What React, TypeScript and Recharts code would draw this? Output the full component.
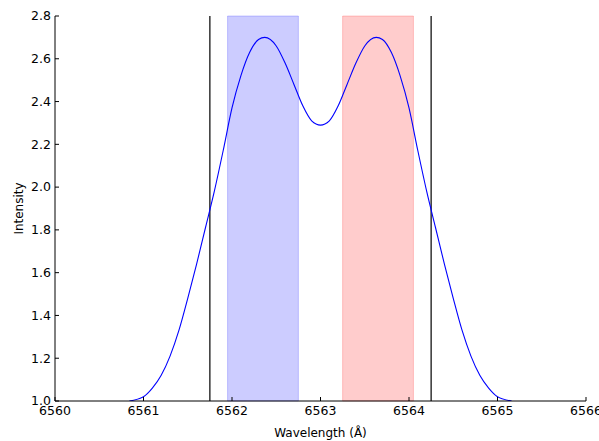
import React from 'react';
import { LineChart, Line, XAxis, YAxis, ReferenceLine, ReferenceArea } from 'recharts';

// wavelength (Å) and intensity
const WAVE = [
  6560.84, 6561.0, 6561.1, 6561.2, 6561.3, 6561.4, 6561.5, 6561.6, 6561.7, 6561.8,
  6561.9, 6562.0, 6562.1, 6562.2, 6562.3, 6562.37, 6562.5, 6562.6, 6562.7, 6562.8,
  6562.9, 6563.0, 6563.1, 6563.2, 6563.3, 6563.4, 6563.5, 6563.63, 6563.7, 6563.8,
  6563.9, 6564.0, 6564.1, 6564.2, 6564.3, 6564.4, 6564.5, 6564.6, 6564.7, 6564.8,
  6564.9, 6565.0, 6565.16,
];
const INTENSITY = [
  1.0, 1.02, 1.06, 1.12, 1.21, 1.33, 1.48, 1.64, 1.81, 1.98,
  2.17, 2.37, 2.52, 2.63, 2.69, 2.7, 2.66, 2.58, 2.48, 2.38,
  2.31, 2.29, 2.31, 2.38, 2.48, 2.58, 2.66, 2.7, 2.69, 2.63,
  2.52, 2.37, 2.17, 1.98, 1.81, 1.64, 1.48, 1.33, 1.21, 1.12,
  1.06, 1.02, 1.0,
];

const X_TICKS = [6560, 6561, 6562, 6563, 6564, 6565, 6566];
const Y_TICKS = [1.0, 1.2, 1.4, 1.6, 1.8, 2.0, 2.2, 2.4, 2.6, 2.8];

const EDGES = [6561.75, 6564.25];
const BLUE_WING = [6561.95, 6562.75];
const RED_WING = [6563.25, 6564.05];

const data = WAVE.map((x, i) => ({ x, y: INTENSITY[i] }));

const FONT = 'DejaVu Sans, sans-serif';
const FS = 12.5;
const TL = 4; // tick length, pointing inward

const BottomTick = (p: any) => (
  <g>
    <line x1={p.x} y1={p.y} x2={p.x} y2={p.y - TL} stroke="#000" />
    <text x={p.x} y={p.y + 14} textAnchor="middle" fontSize={FS} fontFamily={FONT} fill="#000">
      {p.payload.value}
    </text>
  </g>
);
const TopTick = (p: any) => <line x1={p.x} y1={p.y} x2={p.x} y2={p.y + TL} stroke="#000" />;
const LeftTick = (p: any) => (
  <g>
    <line x1={p.x} y1={p.y} x2={p.x + TL} y2={p.y} stroke="#000" />
    <text x={p.x - 4} y={p.y} dy="0.35em" textAnchor="end" fontSize={FS} fontFamily={FONT} fill="#000">
      {Number(p.payload.value).toFixed(1)}
    </text>
  </g>
);
const RightTick = (p: any) => <line x1={p.x} y1={p.y} x2={p.x - TL} y2={p.y} stroke="#000" />;

export default function App() {
  return (
    <div style={{ position: 'absolute', left: 0, top: 0, background: '#fff' }}>
      <LineChart width={599} height={441} data={data} margin={{ top: 16, right: 13, bottom: 0, left: 0 }}>
        <XAxis
          dataKey="x"
          type="number"
          domain={[6560, 6566]}
          ticks={X_TICKS}
          interval={0}
          allowDataOverflow
          height={40}
          tickSize={0}
          tickMargin={0}
          tick={BottomTick}
          axisLine={{ stroke: '#000' }}
          label={{ value: 'Wavelength (Å)', position: 'insideBottom', offset: 4, fontSize: 12, fontFamily: FONT, fill: '#000' }}
        />
        <XAxis
          xAxisId="top"
          orientation="top"
          dataKey="x"
          type="number"
          domain={[6560, 6566]}
          ticks={X_TICKS}
          interval={0}
          height={0}
          tickSize={0}
          tickMargin={0}
          tick={TopTick}
          axisLine={{ stroke: '#000' }}
        />
        <YAxis
          type="number"
          domain={[1.0, 2.8]}
          ticks={Y_TICKS}
          interval={0}
          allowDataOverflow
          width={55}
          tickSize={0}
          tickMargin={0}
          tick={LeftTick}
          axisLine={{ stroke: '#000' }}
          label={{ value: 'Intensity', angle: -90, position: 'center', dx: -9, fontSize: 12, fontFamily: FONT, fill: '#000' }}
        />
        <YAxis
          yAxisId="right"
          orientation="right"
          type="number"
          domain={[1.0, 2.8]}
          ticks={Y_TICKS}
          interval={0}
          width={0}
          tickSize={0}
          tickMargin={0}
          tick={RightTick}
          axisLine={{ stroke: '#000' }}
        />
        <ReferenceArea x1={BLUE_WING[0]} x2={BLUE_WING[1]} fill="#0000ff" fillOpacity={0.2} stroke="#0000ff" strokeOpacity={0.2} />
        <ReferenceArea x1={RED_WING[0]} x2={RED_WING[1]} fill="#ff0000" fillOpacity={0.2} stroke="#ff0000" strokeOpacity={0.2} />
        {EDGES.map((e) => (
          <ReferenceLine key={e} x={e} stroke="#000" strokeWidth={1.2} />
        ))}
        <Line
          dataKey="y"
          type="monotone"
          stroke="#0000ff"
          strokeWidth={1.1}
          dot={false}
          isAnimationActive={false}
        />
      </LineChart>
    </div>
  );
}
